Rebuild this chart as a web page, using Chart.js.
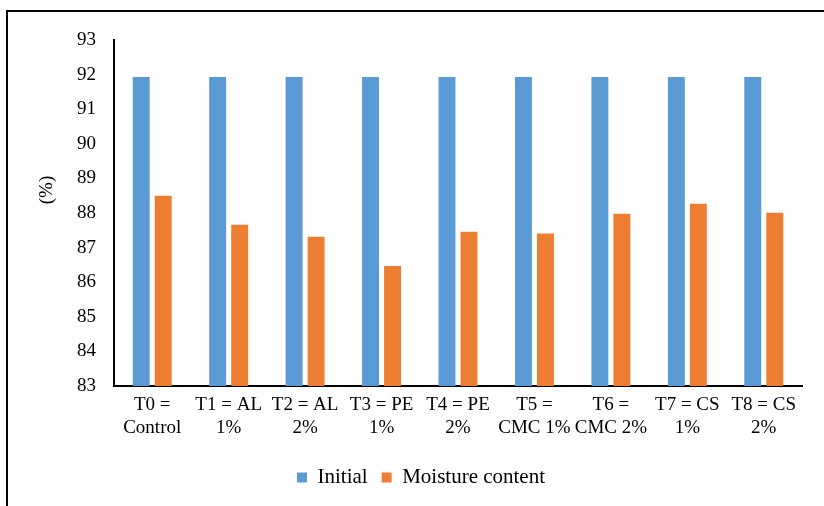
<!DOCTYPE html>
<html>
<head>
<meta charset="utf-8">
<script src="https://cdn.jsdelivr.net/npm/chart.js@4.4.1/dist/chart.umd.min.js"></script>
<style>
  html, body { margin: 0; padding: 0; background: #fff; }
  #wrap { width: 824px; height: 506px; }
</style>
</head>
<body>
<div id="wrap"><canvas id="c" width="824" height="506"></canvas></div>
<script>
// Treatments (two-line category labels)
const categories = [
  ['T0 =', 'Control'],
  ['T1 = AL', '1%'],
  ['T2 = AL', '2%'],
  ['T3 = PE', '1%'],
  ['T4 = PE', '2%'],
  ['T5 =', 'CMC 1%'],
  ['T6 =', 'CMC 2%'],
  ['T7 = CS', '1%'],
  ['T8 = CS', '2%']
];
const initialValues = [91.93, 91.93, 91.93, 91.93, 91.93, 91.93, 91.93, 91.93, 91.93];
const moistureValues = [88.5, 87.66, 87.31, 86.47, 87.46, 87.41, 87.98, 88.27, 88.01];
const seriesNames = ['Initial', 'Moisture content'];
const yAxisTitle = '(%)';
const yMin = 83, yMax = 93, yStep = 1;

const FONT = '"Liberation Serif", "Times New Roman", serif';

// Outer frame and rotated axis title
const framePlugin = {
  id: 'frame',
  afterDraw(chart) {
    const ctx = chart.ctx;
    ctx.save();
    ctx.strokeStyle = '#000';
    ctx.lineWidth = 2;
    ctx.beginPath();
    ctx.moveTo(7, 506);
    ctx.lineTo(7, 11);
    ctx.lineTo(824, 11);
    ctx.stroke();

    ctx.fillStyle = '#000';
    ctx.font = '19px ' + FONT;
    ctx.textAlign = 'center';
    ctx.textBaseline = 'middle';
    ctx.translate(47, 190);
    ctx.rotate(-Math.PI / 2);
    ctx.fillText(yAxisTitle, 0, 0);
    ctx.restore();
  }
};

new Chart(document.getElementById('c'), {
  type: 'bar',
  data: {
    labels: categories,
    datasets: [
      { label: seriesNames[0], data: initialValues, backgroundColor: '#5B9BD5',
        barPercentage: 0.77, categoryPercentage: 0.576 },
      { label: seriesNames[1], data: moistureValues, backgroundColor: '#ED7D31',
        barPercentage: 0.77, categoryPercentage: 0.576 }
    ]
  },
  options: {
    responsive: false,
    animation: false,
    devicePixelRatio: 1,
    layout: { padding: { left: 40, right: 22, top: 40, bottom: 8 } },
    plugins: {
      tooltip: { enabled: false },
      legend: {
        position: 'bottom',
        labels: {
          color: '#000',
          font: { family: FONT, size: 21 },
          boxWidth: 10,
          boxHeight: 10,
          padding: 14
        }
      }
    },
    scales: {
      x: {
        grid: { display: false, drawTicks: false },
        border: { display: true, color: '#000', width: 2 },
        ticks: {
          color: '#000',
          font: { family: FONT, size: 19 },
          maxRotation: 0,
          autoSkip: false,
          padding: 8
        },
        afterFit(scale) { scale.height = 67; }
      },
      y: {
        min: yMin,
        max: yMax,
        grid: { display: false, drawTicks: false },
        border: { display: true, color: '#000', width: 2 },
        ticks: {
          stepSize: yStep,
          color: '#000',
          font: { family: FONT, size: 19 },
          padding: 18
        },
        afterFit(scale) { scale.width = 74; }
      }
    }
  },
  plugins: [framePlugin]
});
</script>
</body>
</html>
